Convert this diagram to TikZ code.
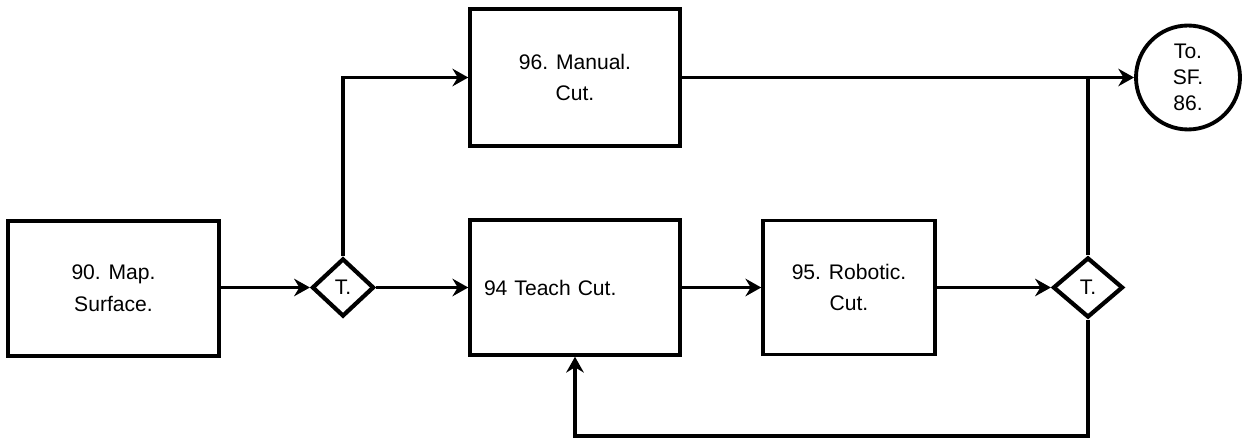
\documentclass[tikz,border=0pt]{standalone}
\usepackage{fontspec}
\setmainfont{Liberation Sans}
\usetikzlibrary{arrows.meta, shapes.geometric}
\tikzset{
	block style/.style={
		draw,
		line width=2pt,
		rectangle,
		align=center,
		font=\fontsize{12}{18}\selectfont
	},
	test style/.style={
		draw,
		line width=2.4pt,
		diamond,
		inner sep=0pt,
		font=\fontsize{12}{14}\selectfont
	},
	end style/.style={
		draw,
		line width=2.2pt,
		circle,
		inner sep=0pt,
		align=center,
		font=\fontsize{12}{15}\selectfont
	},
	flow style/.style={
		line width=2pt,
		-{Stealth[length=9pt, width=10pt, inset=3pt]}
	},
	line style/.style={
		line width=2pt
	}
}

\begin{document}
\begin{tikzpicture}[x=0.02cm, y=-0.02cm]
		
		% --- 1. Page frame ---
		\useasboundingbox (0,0) rectangle (1242,438);
		
		% --- 2. Process blocks ---
		\node[block style, minimum width=4.22cm, minimum height=2.7cm] (map) at (113.5,288.5) {90. Map.\\Surface.};
		\node[block style, minimum width=4.2cm, minimum height=2.74cm] (manual) at (575,77.5) {96. Manual.\\Cut.};
		\node[block style, minimum width=4.2cm, minimum height=2.7cm, text width=3.64cm, inner xsep=0.28cm, align=left] (teach) at (575,287.5) {94 Teach Cut.};
		\node[block style, minimum width=3.44cm, minimum height=2.68cm] (robot) at (849,287.5) {95. Robotic.\\Cut.};
		
		% --- 3. Test points and exit ---
		\node[test style, minimum width=1.24cm, minimum height=1.16cm] (test1) at (343,287.5) {T.};
		\node[test style, minimum width=1.4cm, minimum height=1.2cm] (test2) at (1088,287.5) {T.};
		\node[end style, minimum size=2.08cm] (exit) at (1188,77.5) {To.\\SF.\\86.};
		
		% --- 4. Main flow ---
		\draw[flow style] (map.east |- test1.west) -- (test1.west);
		\draw[flow style] (test1.north) |- (manual.west);
		\draw[flow style] (test1.east) -- (teach.west);
		\draw[flow style] (teach.east) -- (robot.west);
		\draw[flow style] (robot.east) -- (test2.west);
		\draw[flow style] (manual.east) -- (exit.west);
		
		% --- 5. Branches out of the second test ---
		\draw[line style] (test2.north) -- (test2.north |- exit.west);
		\coordinate (back) at (1088,436);
		\draw[flow style] (test2.south) -- (back) -| (teach.south);
		
	\end{tikzpicture}
\end{document}
